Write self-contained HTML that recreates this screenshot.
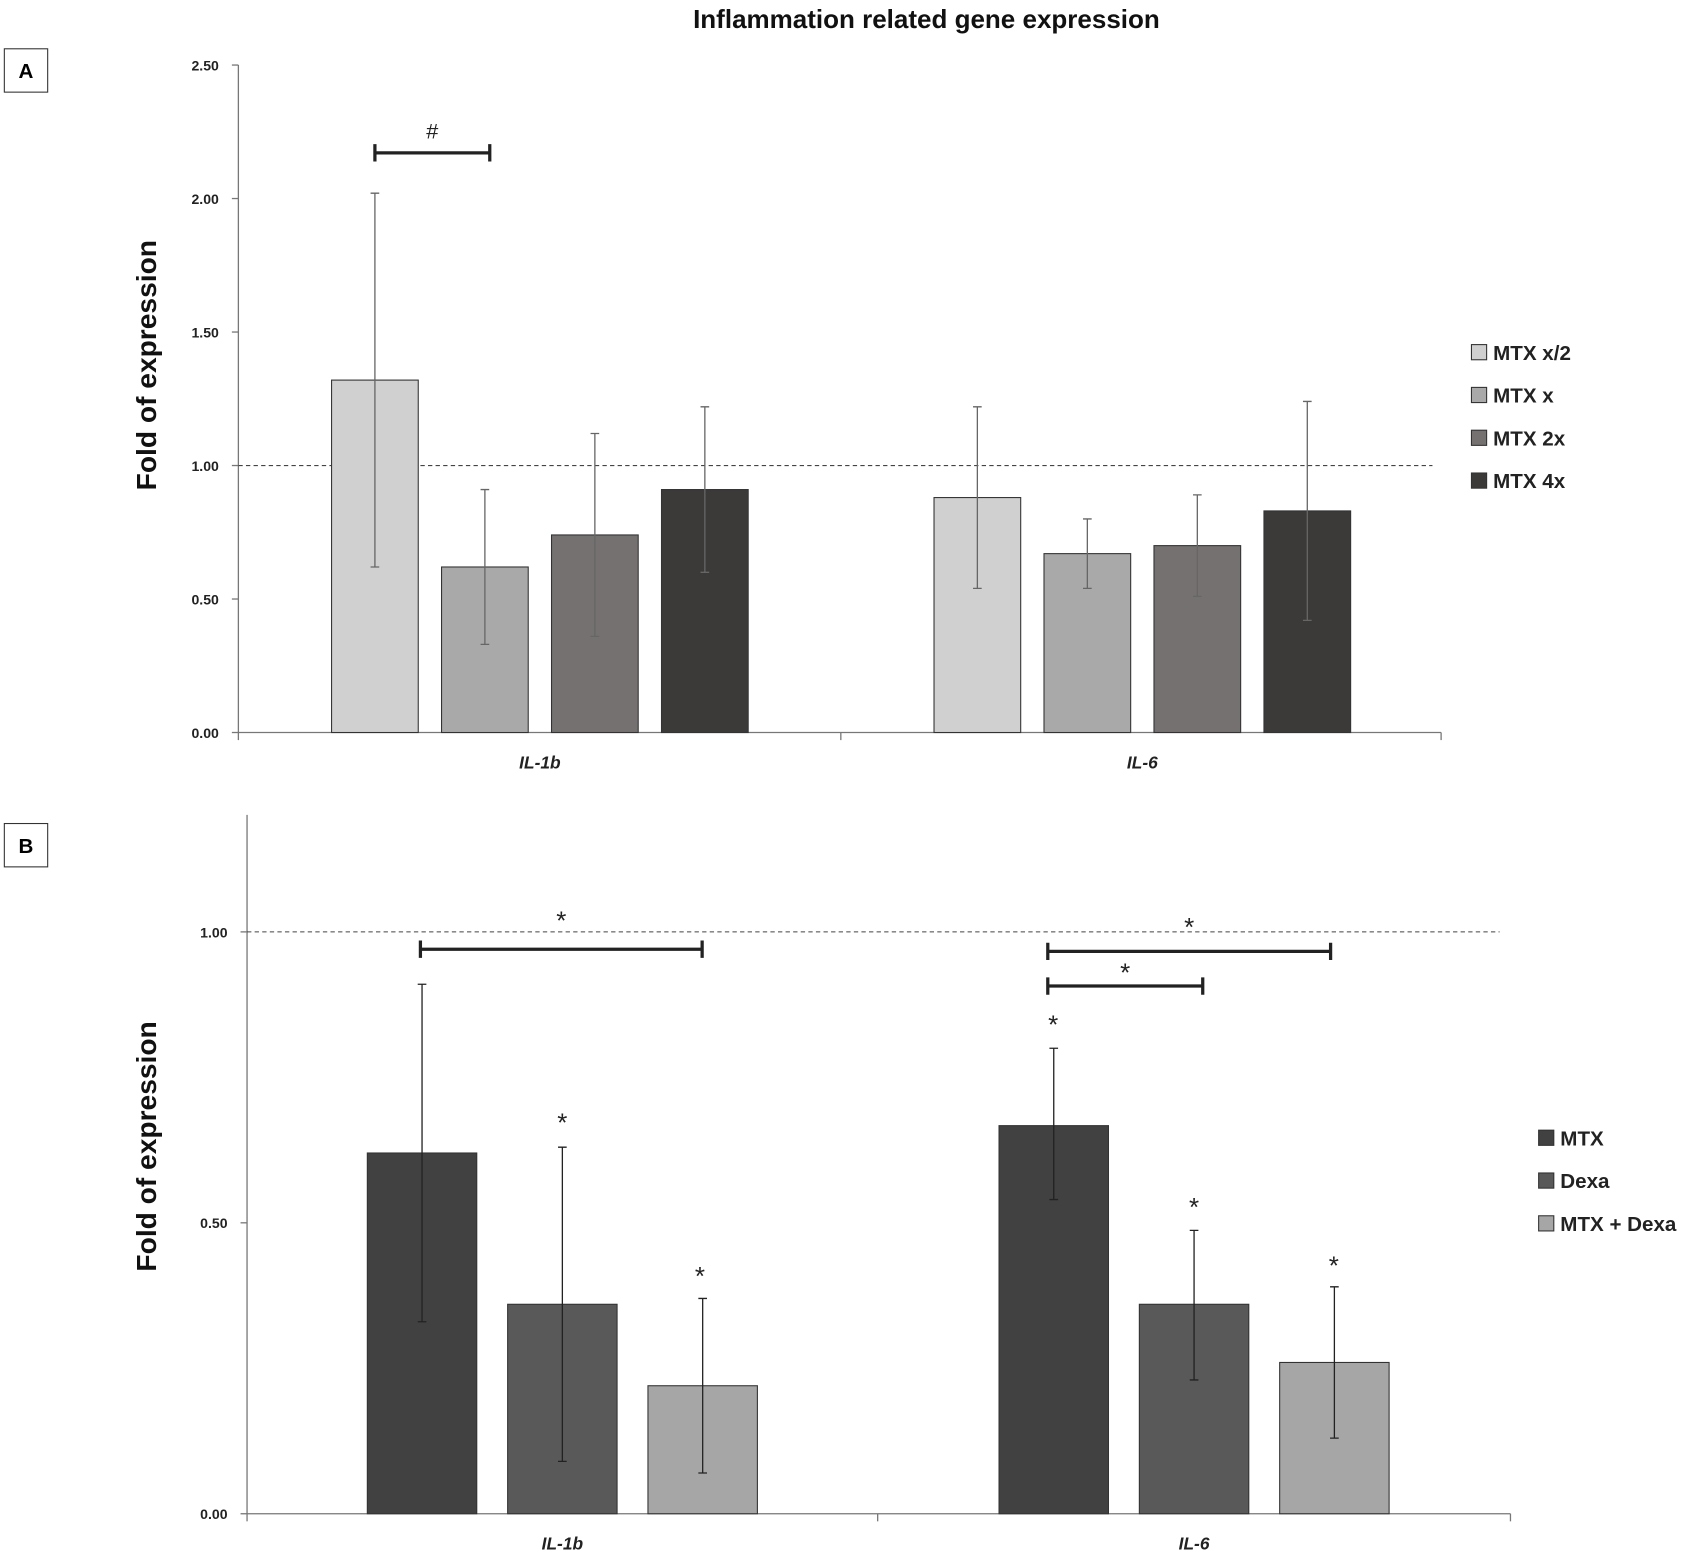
<!DOCTYPE html>
<html><head><meta charset="utf-8"><style>
html,body{margin:0;padding:0;background:#fff}
svg{display:block;font-family:"Liberation Sans",sans-serif}
</style></head><body>
<svg id="fig" width="1699" height="1562" viewBox="0 0 1568 1441.5" xmlns="http://www.w3.org/2000/svg">
<text x="855" y="26" text-anchor="middle" font-size="24" font-weight="bold" fill="#111">Inflammation related gene expression</text>
<g id="gA"></g>
<g id="gB"></g>
</svg>
<script>
// Panel A data
const catsA = ["IL-1b", "IL-6"];
const seriesA = ["MTX x/2", "MTX x", "MTX 2x", "MTX 4x"];
const valsA = [[1.32, 0.88], [0.62, 0.67], [0.74, 0.70], [0.91, 0.83]];
const errLoA = [[0.62, 0.54], [0.33, 0.54], [0.36, 0.51], [0.60, 0.42]];
const errHiA = [[2.02, 1.22], [0.91, 0.80], [1.12, 0.89], [1.22, 1.24]];
const ticksA = ["0.00", "0.50", "1.00", "1.50", "2.00", "2.50"];
// Panel B data
const catsB = ["IL-1b", "IL-6"];
const seriesB = ["MTX", "Dexa", "MTX + Dexa"];
const valsB = [[0.62, 0.667], [0.36, 0.36], [0.22, 0.26]];
const errLoB = [[0.33, 0.54], [0.09, 0.23], [0.07, 0.13]];
const errHiB = [[0.91, 0.80], [0.63, 0.487], [0.37, 0.39]];
const ticksB = ["0.00", "0.50", "1.00"];

const NS = "http://www.w3.org/2000/svg";
function mk(parent, tag, attrs, text) {
  const e = document.createElementNS(NS, tag);
  for (const k in attrs) e.setAttribute(k, attrs[k]);
  if (text !== undefined) e.textContent = text;
  parent.appendChild(e);
  return e;
}

function panel(g, cfg) {
  const y = v => cfg.y0 - (v - 0) / cfg.vmax * (cfg.y0 - cfg.yTop);
  const box = mk(g, "rect", {x: 4, y: cfg.boxY, width: 40, height: 40, fill: "#fff", stroke: "#333", "stroke-width": 1});
  
  
  const bl = mk(g, "text", {x: 24, y: cfg.boxY + 27, "text-anchor": "middle", "font-size": 19, "font-weight": "bold"}, cfg.label);
  
  
  const ya = mk(g, "line", {x1: cfg.ax, x2: cfg.ax, y1: cfg.axTop, y2: cfg.y0, stroke: "#777", "stroke-width": 1.2});
  
  
  const xa = mk(g, "line", {x1: cfg.ax, x2: cfg.axEnd, y1: cfg.y0, y2: cfg.y0, stroke: "#777", "stroke-width": 1.2});
  
  
  [cfg.ax, cfg.mid, cfg.axEnd].forEach(xx => {
    const t = mk(g, "line", {x1: xx, x2: xx, y1: cfg.y0, y2: cfg.y0 + 7, stroke: "#777", "stroke-width": 1.2});
    
    
  });
  cfg.ticks.forEach(tl => {
    const v = parseFloat(tl);
    const tk = mk(g, "line", {x1: cfg.ax - 6, x2: cfg.ax, y1: y(v), y2: y(v), stroke: "#777", "stroke-width": 1.2});
    
    
    const tt = mk(g, "text", {x: cfg.ax - 18, y: y(v) + 5, "text-anchor": "end", "font-size": 13, "font-weight": "bold", fill: "#222"}, tl);
    
    
  });
  const yt = mk(g, "text", {x: 0, y: 0, transform: `translate(144,${cfg.titleY}) rotate(-90)`, "text-anchor": "middle", "font-size": 26, "font-weight": "bold", fill: "#111"}, "Fold of expression");
  
  
  const dl = mk(g, "line", {x1: cfg.ax, x2: cfg.dashEnd, y1: y(1), y2: y(1), stroke: "#444", "stroke-width": 1, "stroke-dasharray": "4,3"});
  
  
  cfg.vals.forEach((ser, si) => {
    ser.forEach((v, ci) => {
      const x0 = cfg.catStart[ci] + si * cfg.step;
      const r = mk(g, "rect", {x: x0, y: y(v), width: cfg.bw, height: cfg.y0 - y(v), fill: cfg.colors[si], stroke: "#333", "stroke-width": 1});
      
      
      const cx = x0 + cfg.bw / 2;
      const lo = y(cfg.lo[si][ci]), hi = y(cfg.hi[si][ci]);
      const e = mk(g, "path", {d: `M${cx},${lo}V${hi}M${cx-4},${lo}H${cx+4}M${cx-4},${hi}H${cx+4}`, stroke: cfg.errColor, "stroke-width": 1.2, fill: "none"});
      
      
    });
  });
  cfg.cats.forEach((c, ci) => {
    const cx = cfg.catStart[ci] + (cfg.step * (cfg.series.length - 1) + cfg.bw) / 2;
    const t = mk(g, "text", {x: cx, y: cfg.y0 + 33, "text-anchor": "middle", "font-size": 16, "font-weight": "bold", "font-style": "italic", fill: "#222"}, c);
    
    
  });
  cfg.series.forEach((s, si) => {
    const ly = cfg.legY + si * cfg.legStep;
    const sq = mk(g, "rect", {x: cfg.legX, y: ly - 7, width: 14, height: 14, fill: cfg.colors[si], stroke: "#333", "stroke-width": 1});
    
    
    const lt = mk(g, "text", {x: cfg.legX + 20, y: ly + 7, "font-size": 19, "font-weight": "bold", fill: "#222"}, s);
    
    
  });
  cfg.brackets.forEach(b => {
    const p = mk(g, "path", {d: `M${b[0]},${b[2]}H${b[1]}M${b[0]},${b[2]-8}V${b[2]+8}M${b[1]},${b[2]-8}V${b[2]+8}`, stroke: "#222", "stroke-width": 3, fill: "none"});
    
    
    const t = mk(g, "text", {x: (b[0] + b[1]) / 2, y: b[4], "text-anchor": "middle", "font-size": b[3] === "#" ? 20 : 24, fill: "#222"}, b[3]);
    
    
  });
  cfg.stars.forEach(s => {
    const t = mk(g, "text", {x: s[0], y: s[1], "text-anchor": "middle", "font-size": 24, fill: "#222"}, "*");
    
    
  });
}

panel(document.getElementById("gA"), {
  label: "A", boxY: 45, ax: 220, axEnd: 1330, mid: 776, axTop: 60, y0: 676, yTop: 60, vmax: 2.5,
  ticks: ticksA, cats: catsA, series: seriesA, vals: valsA, lo: errLoA, hi: errHiA,
  catStart: [306, 862], step: 101.5, bw: 80, colors: ["#d0d0d0", "#a9a9a9", "#757170", "#3b3a39"],
  errColor: "#666", dashEnd: 1322, titleY: 337, legX: 1358, legY: 325, legStep: 39.5,
  brackets: [[346, 452, 141, "#", 128]], stars: []
});
panel(document.getElementById("gB"), {
  label: "B", boxY: 760, ax: 228, axEnd: 1394, mid: 810, axTop: 752, y0: 1397, yTop: 860, vmax: 1.0,
  ticks: ticksB, cats: catsB, series: seriesB, vals: valsB, lo: errLoB, hi: errHiB,
  catStart: [339, 922], step: 129.5, bw: 101, colors: ["#414141", "#595959", "#a6a6a6"],
  errColor: "#222", dashEnd: 1384, titleY: 1058, legX: 1420, legY: 1050, legStep: 39.5,
  brackets: [[388, 648, 876, "*", 858], [967, 1228, 878, "*", 864], [967, 1110, 910, "*", 906]],
  stars: [[519, 1044], [646, 1186], [972, 954], [1102, 1122], [1231, 1176]]
});
</script>
</body></html>
